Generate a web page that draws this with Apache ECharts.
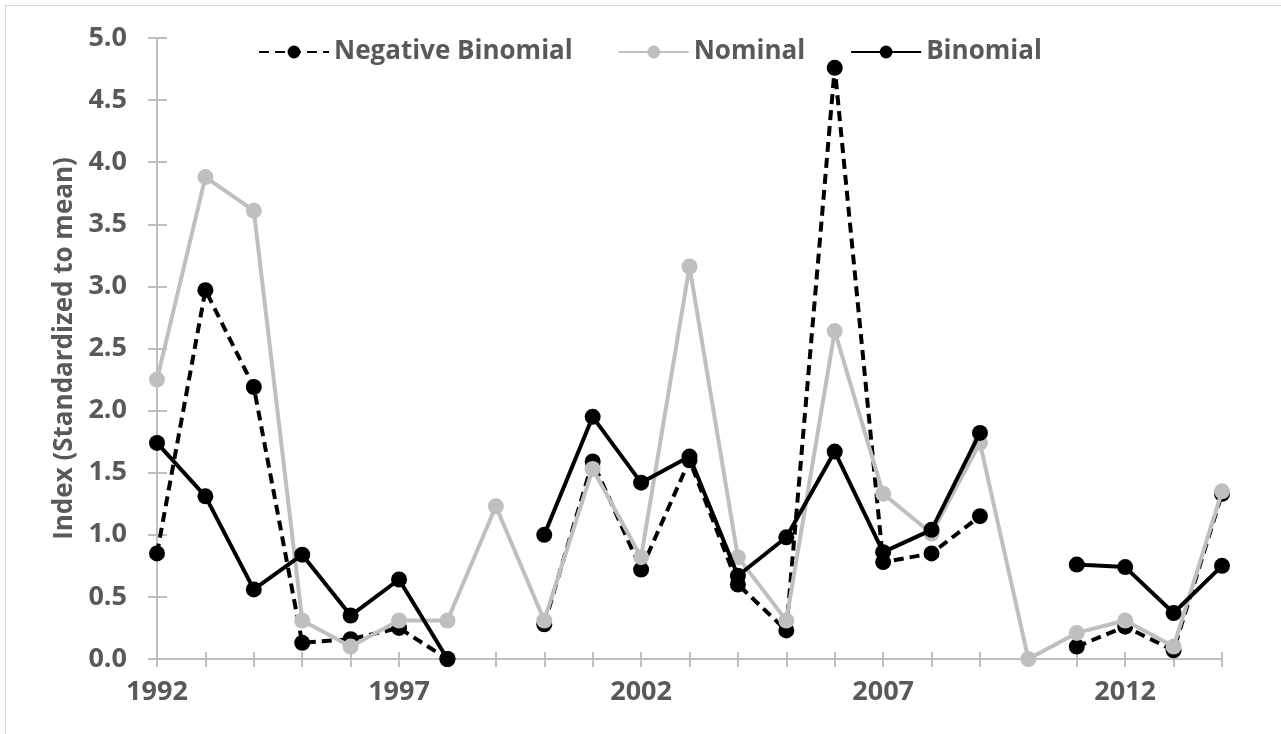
<!DOCTYPE html>
<html>
<head>
<meta charset="utf-8">
<script src="https://cdn.jsdelivr.net/npm/echarts@6/dist/echarts.min.js"></script>
<style>
  html, body { margin: 0; padding: 0; background: #fff; }
  #frame { position: absolute; left: 5px; top: 5px; width: 1290px; height: 740px; border: 1px solid #D9D9D9; box-sizing: border-box; }
  #chart { position: absolute; left: 0; top: 0; width: 1281px; height: 734px; }
</style>
</head>
<body>
<div id="frame"></div>
<div id="chart"></div>
<script>
const years = ['1992','1993','1994','1995','1996','1997','1998','1999','2000','2001','2002','2003','2004','2005','2006','2007','2008','2009','2010','2011','2012','2013','2014'];
const negativeBinomial = [0.85, 2.97, 2.19, 0.13, 0.16, 0.25, 0.00, null, 0.28, 1.59, 0.72, 1.60, 0.60, 0.23, 4.76, 0.78, 0.85, 1.15, null, 0.10, 0.26, 0.07, 1.33];
const nominal = [2.25, 3.88, 3.61, 0.31, 0.10, 0.31, 0.31, 1.23, 0.31, 1.53, 0.82, 3.16, 0.82, 0.31, 2.64, 1.33, 1.01, 1.74, 0.00, 0.21, 0.31, 0.10, 1.35];
const binomial = [1.74, 1.31, 0.56, 0.84, 0.35, 0.64, 0.00, null, 1.00, 1.95, 1.42, 1.63, 0.67, 0.98, 1.67, 0.86, 1.04, 1.82, null, 0.76, 0.74, 0.37, 0.75];
const seriesNames = ['Negative Binomial', 'Nominal', 'Binomial'];
const yTitle = 'Index (Standardized to mean)';

const FONT = 'Open Sans';
const TXT = '#595959';
const AX = '#BFBFBF';

const chart = echarts.init(document.getElementById('chart'));
const labelEvery5 = (i) => i % 5 === 0;
chart.setOption({
  animation: false,
  textStyle: { fontFamily: FONT },
  legend: {
    top: 34, left: 253,
    itemWidth: 70, itemHeight: 16, itemGap: 45,
    textStyle: { fontFamily: FONT, fontWeight: 'bold', fontSize: 26, color: TXT },
    data: seriesNames
  },
  grid: { left: 157, right: 59, top: 38, bottom: 75 },
  xAxis: [{
    type: 'category', data: years, boundaryGap: false,
    axisLine: { lineStyle: { color: AX, width: 2 } },
    axisTick: { show: true, interval: 0, length: 8, lineStyle: { color: AX, width: 2 } },
    axisLabel: { interval: labelEvery5, margin: 20, fontFamily: FONT, fontWeight: 'bold', fontSize: 27, color: TXT },
    splitLine: { show: false }
  }, {
    type: 'category', data: years, boundaryGap: false, position: 'bottom',
    axisLine: { show: false },
    axisTick: { show: true, inside: true, interval: 0, length: 7, lineStyle: { color: AX, width: 2 } },
    axisLabel: { show: false },
    splitLine: { show: false }
  }],
  yAxis: [{
    type: 'value', min: 0, max: 5, interval: 0.5,
    name: yTitle, nameLocation: 'middle', nameGap: 77, nameRotate: 90,
    nameTextStyle: { fontFamily: FONT, fontWeight: 'bold', fontSize: 26, color: TXT },
    axisLine: { show: true, lineStyle: { color: AX, width: 2 } },
    axisTick: { show: true, length: 9, lineStyle: { color: AX, width: 2 } },
    axisLabel: { margin: 30, fontFamily: FONT, fontWeight: 'bold', fontSize: 27, color: TXT, formatter: v => v.toFixed(1) },
    splitLine: { show: false }
  }, {
    type: 'value', min: 0, max: 5, interval: 0.5, position: 'left',
    axisLine: { show: false },
    axisTick: { show: true, inside: true, length: 10, lineStyle: { color: AX, width: 2 } },
    axisLabel: { show: false },
    splitLine: { show: false }
  }],
  series: [
    {
      name: seriesNames[1], type: 'line', data: nominal, connectNulls: false, z: 2,
      symbol: 'circle', symbolSize: 16,
      lineStyle: { color: '#BFBFBF', width: 4 },
      itemStyle: { color: '#BFBFBF' }
    },
    {
      name: seriesNames[0], type: 'line', data: negativeBinomial, connectNulls: false, z: 1,
      symbol: 'circle', symbolSize: 16,
      lineStyle: { color: '#000', width: 4, type: [10, 6] },
      itemStyle: { color: '#000' }
    },
    {
      name: seriesNames[2], type: 'line', data: binomial, connectNulls: false, z: 3,
      symbol: 'circle', symbolSize: 16,
      lineStyle: { color: '#000', width: 4 },
      itemStyle: { color: '#000' }
    }
  ]
});
</script>
</body>
</html>
